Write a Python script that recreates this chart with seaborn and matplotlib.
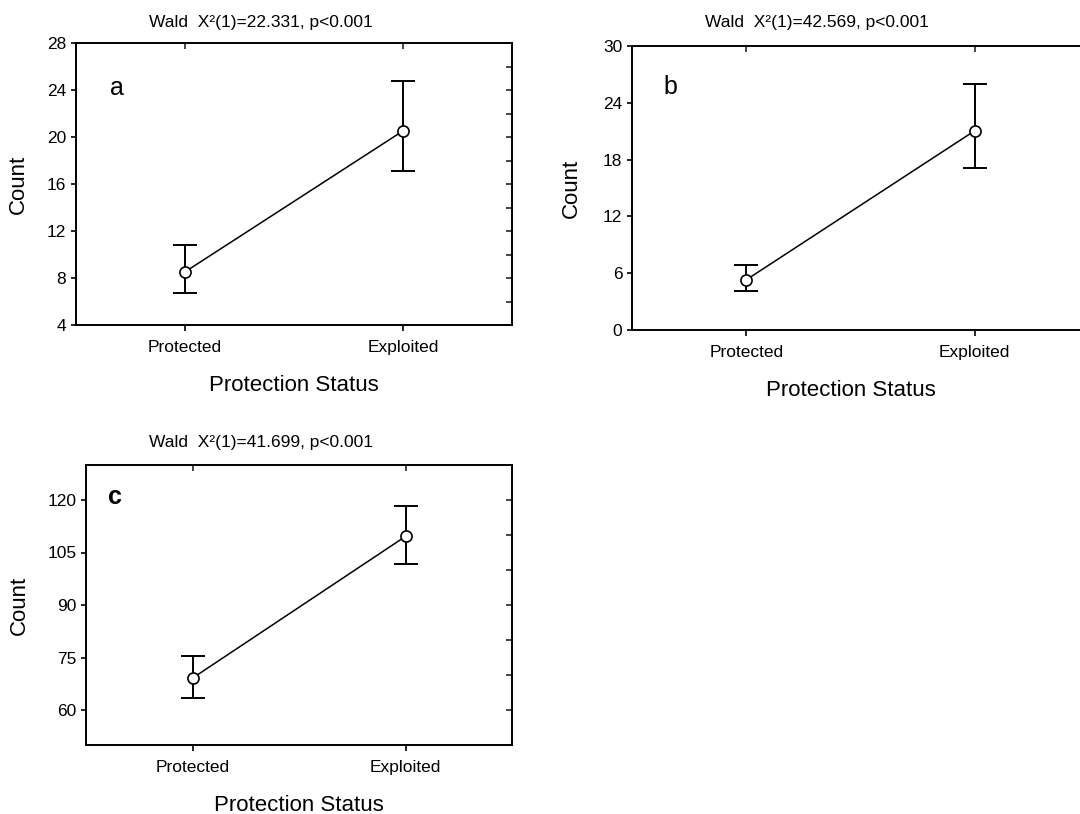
import numpy as np
import pandas as pd
import matplotlib
matplotlib.use("Agg")
import matplotlib.pyplot as plt
import seaborn as sns

# Model estimates with their confidence limits, per protection status
categories = ["Protected", "Exploited"]

a_mean = [8.52, 20.52]
a_low = [6.72, 17.12]
a_high = [10.84, 24.76]
a_title = "Wald  X\u00b2(1)=22.331, p<0.001"

b_mean = [5.30, 21.05]
b_low = [4.07, 17.16]
b_high = [6.89, 26.00]
b_title = "Wald  X\u00b2(1)=42.569, p<0.001"

c_mean = [69.1, 109.6]
c_low = [63.3, 101.7]
c_high = [75.4, 118.2]
c_title = "Wald  X\u00b2(1)=41.699, p<0.001"

sns.set_style("ticks")
plt.rcParams["font.family"] = ["Liberation Sans", "DejaVu Sans"]
plt.rcParams["text.color"] = "black"
plt.rcParams["axes.labelcolor"] = "black"

fig = plt.figure(figsize=(10.8, 8.14), dpi=100)
W, H = 1080, 814


def add_axes_px(left, top, right, bottom):
    return fig.add_axes([left / W, 1 - bottom / H, (right - left) / W, (bottom - top) / H])


def panel(ax, mean, low, high, ylim, yticks, right_ticks, letter, letter_xy,
          letter_bold, ylabel_x, xlabel_x, xlabel_y, title, title_xy, show_right=True):
    df = pd.DataFrame({"status": categories, "count": mean})
    pos = np.arange(len(categories))
    mean = np.asarray(mean)
    err = np.vstack([mean - np.asarray(low), np.asarray(high) - mean])
    ax.errorbar(pos, mean, yerr=err, fmt="none", ecolor="black",
                elinewidth=1.4, capsize=8.6, capthick=1.4, zorder=2)
    sns.pointplot(data=df, x="status", y="count", order=categories, ax=ax,
                  color="black", errorbar=None, markers="o", linestyles="-",
                  markersize=8, markerfacecolor="white", markeredgecolor="black",
                  markeredgewidth=1.2, linewidth=1.1, zorder=3)
    ax.set_xlim(-0.5, 1.5)
    ax.set_ylim(*ylim)
    ax.set_yticks(yticks)
    ax.set_xticks(pos)
    ax.set_xticklabels(categories)
    for s in ax.spines.values():
        s.set_linewidth(1.4)
        s.set_color("black")
    ax.spines["right"].set_visible(show_right)
    ax.tick_params(axis="x", direction="out", length=4.5, width=1.2, pad=6.5,
                   labelsize=12.5, colors="black")
    ax.tick_params(axis="y", direction="out", length=3.5, width=1.2, pad=3.5,
                   labelsize=12.5, colors="black")
    ax.set_ylabel("Count", fontsize=16, color="black")
    ax.set_xlabel("Protection Status", fontsize=16, color="black")
    ax.yaxis.set_label_coords(ylabel_x, 0.5)
    ax.xaxis.set_label_coords(xlabel_x, xlabel_y)

    top = ax.secondary_xaxis("top")
    top.set_xticks(pos)
    top.tick_params(direction="in", length=4.5, width=1.2, labeltop=False)
    top.spines["top"].set_visible(False)
    if show_right:
        right = ax.secondary_yaxis("right")
        right.set_yticks(right_ticks)
        right.tick_params(direction="in", length=4.5, width=1.2, labelright=False)
        right.spines["right"].set_visible(False)

    ax.text(letter_xy[0], letter_xy[1], letter, transform=ax.transAxes,
            fontsize=18, fontweight="bold" if letter_bold else "normal",
            ha="center", va="center", color="black")
    fig.text(title_xy[0] / W, 1 - title_xy[1] / H, title, fontsize=12.5,
             ha="center", va="center", color="black")


ax_a = add_axes_px(76, 43, 512, 325)
panel(ax_a, a_mean, a_low, a_high, (4, 28), np.arange(4, 29, 4), np.arange(4, 29, 2),
      "a", (0.095, 0.84), False, -0.108, 0.5, -0.177, a_title, (261, 22))

ax_b = add_axes_px(632, 46, 1089, 330)
panel(ax_b, b_mean, b_low, b_high, (0, 30), np.arange(0, 31, 6), [],
      "b", (0.085, 0.857), False, -0.110, 0.479, -0.176, b_title, (817, 23),
      show_right=False)

ax_c = add_axes_px(86, 465, 512, 745)
panel(ax_c, c_mean, c_low, c_high, (50, 130), np.arange(60, 121, 15), np.arange(60, 121, 10),
      "c", (0.069, 0.886), True, -0.131, 0.5, -0.179, c_title, (261, 443))

fig.savefig("out.png", dpi=100)
